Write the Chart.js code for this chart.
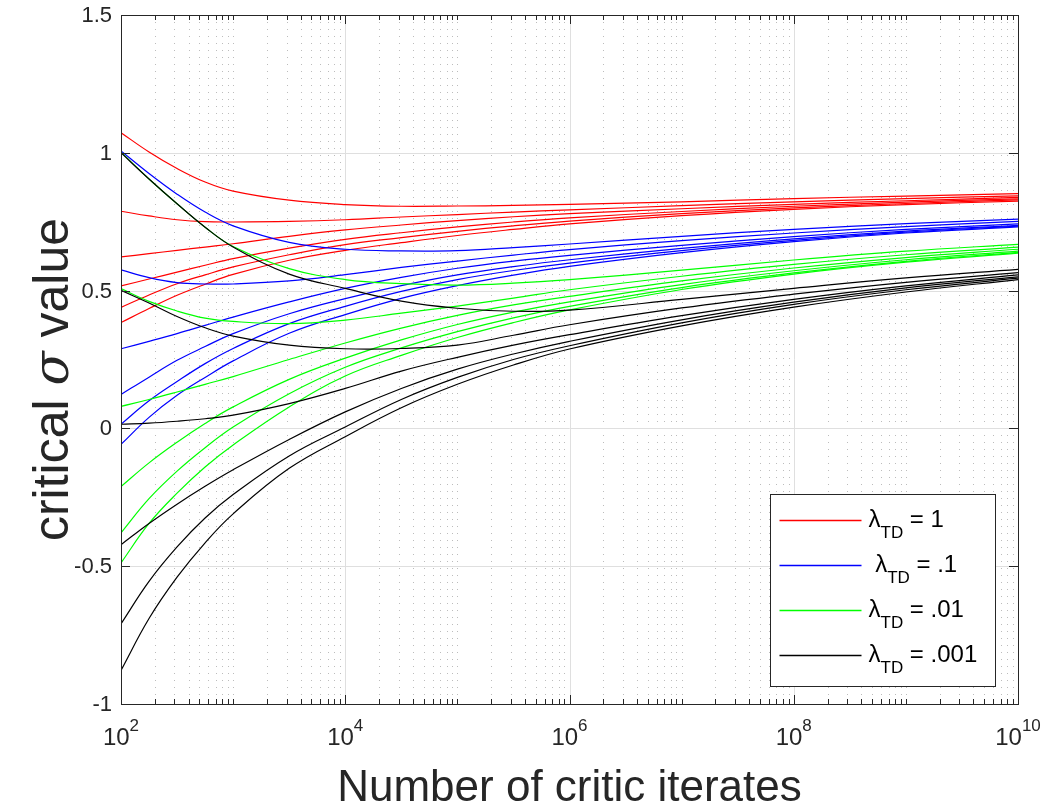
<!DOCTYPE html>
<html>
<head>
<meta charset="utf-8">
<script src="https://cdn.jsdelivr.net/npm/chart.js@4.4.1/dist/chart.umd.min.js"></script>
<style>
  html, body { margin: 0; padding: 0; background: #fff; }
  #wrap { width: 1048px; height: 810px; }
</style>
</head>
<body>
<div id="wrap"><canvas id="sigmaChart"></canvas></div>
<script>
// number of critic iterates (x), sampled at quarter / half / whole decades
const iterates = [1e2, 177.8, 316.2, 562.3, 1e3, 3162.3, 1e4, 31623, 1e5, 316228, 1e6, 1e7, 1e8, 1e9, 1e10];

// critical sigma, six runs per lambda_TD
const lambda1 = [
  [1.073, 1.003, 0.943, 0.894, 0.861, 0.828, 0.812, 0.806, 0.807, 0.809, 0.813, 0.822, 0.834, 0.843, 0.852],
  [0.788, 0.771, 0.757, 0.750, 0.749, 0.751, 0.757, 0.767, 0.776, 0.785, 0.793, 0.808, 0.822, 0.834, 0.844],
  [0.622, 0.634, 0.646, 0.658, 0.670, 0.697, 0.720, 0.738, 0.754, 0.768, 0.779, 0.797, 0.813, 0.826, 0.838],
  [0.517, 0.542, 0.567, 0.592, 0.616, 0.654, 0.686, 0.710, 0.731, 0.749, 0.764, 0.787, 0.806, 0.821, 0.833],
  [0.439, 0.484, 0.525, 0.557, 0.586, 0.630, 0.667, 0.692, 0.715, 0.735, 0.752, 0.779, 0.800, 0.816, 0.829],
  [0.384, 0.435, 0.483, 0.523, 0.559, 0.610, 0.646, 0.674, 0.700, 0.722, 0.742, 0.772, 0.795, 0.812, 0.825]
];
const lambda01 = [
  [1.007, 0.925, 0.850, 0.785, 0.735, 0.675, 0.650, 0.644, 0.645, 0.656, 0.669, 0.697, 0.722, 0.743, 0.759],
  [0.575, 0.547, 0.529, 0.524, 0.524, 0.535, 0.558, 0.584, 0.607, 0.629, 0.649, 0.681, 0.709, 0.732, 0.751],
  [0.289, 0.316, 0.344, 0.374, 0.404, 0.459, 0.508, 0.548, 0.581, 0.607, 0.628, 0.664, 0.696, 0.722, 0.742],
  [0.123, 0.186, 0.247, 0.297, 0.344, 0.416, 0.471, 0.518, 0.557, 0.587, 0.612, 0.653, 0.688, 0.716, 0.737],
  [0.015, 0.100, 0.170, 0.235, 0.290, 0.380, 0.443, 0.497, 0.540, 0.573, 0.600, 0.645, 0.682, 0.712, 0.734],
  [-0.058, 0.040, 0.120, 0.185, 0.245, 0.345, 0.413, 0.472, 0.518, 0.556, 0.588, 0.638, 0.678, 0.709, 0.731]
];
const lambda001 = [
  [1.002, 0.905, 0.815, 0.730, 0.660, 0.580, 0.540, 0.525, 0.520, 0.527, 0.540, 0.574, 0.611, 0.643, 0.668],
  [0.507, 0.461, 0.426, 0.400, 0.388, 0.380, 0.393, 0.418, 0.444, 0.473, 0.503, 0.552, 0.595, 0.630, 0.658],
  [0.080, 0.105, 0.132, 0.160, 0.188, 0.250, 0.310, 0.364, 0.410, 0.448, 0.479, 0.535, 0.582, 0.620, 0.650],
  [-0.211, -0.125, -0.050, 0.018, 0.078, 0.178, 0.255, 0.321, 0.377, 0.422, 0.459, 0.522, 0.572, 0.612, 0.643],
  [-0.379, -0.255, -0.155, -0.070, 0.005, 0.126, 0.222, 0.292, 0.351, 0.401, 0.443, 0.511, 0.564, 0.606, 0.639],
  [-0.488, -0.345, -0.235, -0.140, -0.060, 0.078, 0.190, 0.265, 0.330, 0.384, 0.430, 0.504, 0.560, 0.603, 0.636]
];
const lambda0001 = [
  [1.000, 0.905, 0.815, 0.730, 0.658, 0.560, 0.508, 0.462, 0.436, 0.425, 0.429, 0.468, 0.508, 0.546, 0.577],
  [0.501, 0.455, 0.406, 0.365, 0.335, 0.302, 0.289, 0.290, 0.302, 0.338, 0.376, 0.437, 0.487, 0.530, 0.565],
  [0.015, 0.019, 0.026, 0.035, 0.048, 0.090, 0.145, 0.208, 0.258, 0.302, 0.340, 0.409, 0.468, 0.517, 0.557],
  [-0.422, -0.345, -0.275, -0.210, -0.150, -0.040, 0.060, 0.145, 0.215, 0.270, 0.316, 0.394, 0.458, 0.510, 0.550],
  [-0.709, -0.555, -0.430, -0.325, -0.240, -0.100, 0.005, 0.105, 0.185, 0.250, 0.300, 0.383, 0.450, 0.503, 0.545],
  [-0.878, -0.690, -0.540, -0.415, -0.310, -0.145, -0.030, 0.075, 0.160, 0.230, 0.288, 0.372, 0.440, 0.495, 0.540]
];

const groupColors = ['#ff0000', '#0000ff', '#00ff00', '#000000'];
const legendLabels = ['\\lambda_{TD} = 1', ' \\lambda_{TD} = .1', '\\lambda_{TD} = .01', '\\lambda_{TD} = .001'];
const yTicks = [-1, -0.5, 0, 0.5, 1, 1.5];
const xTickExponents = [2, 4, 6, 8, 10];
const xTitle = 'Number of critic iterates';
const yTitle = ['critical ', '\u03c3', ' value'];

const FONT = '"Liberation Sans", Arial, Helvetica, sans-serif';
const AXIS_COLOR = '#262626';

const groups = [lambda1, lambda01, lambda001, lambda0001];
const datasets = [];
groups.forEach((curves, g) => {
    curves.forEach(values => {
        datasets.push({
            data: values.map((v, i) => ({x: iterates[i], y: v})),
            borderColor: groupColors[g],
            borderWidth: 1.2,
            pointRadius: 0,
            fill: false,
            tension: 0.4,
            order: groups.length - g
        });
    });
});

function hline(ctx, x1, x2, y) {
    ctx.beginPath(); ctx.moveTo(x1, y); ctx.lineTo(x2, y); ctx.stroke();
}
function vline(ctx, x, y1, y2) {
    ctx.beginPath(); ctx.moveTo(x, y1); ctx.lineTo(x, y2); ctx.stroke();
}

// minor x positions: every k*10^e that is not a labelled decade
function minorXValues() {
    const out = [];
    for (let e = 2; e < 10; e++) {
        for (let k = 1; k < 10; k++) {
            if (k === 1 && xTickExponents.includes(e)) continue;
            out.push(k * Math.pow(10, e));
        }
    }
    return out;
}

// draws "\lambda_{TD} = 1" style text with subscripts
function drawTexLabel(ctx, str, x, baseline, size, subSize, subDrop) {
    const parts = [];
    const re = /_\{([^}]*)\}/g;
    let last = 0, m;
    while ((m = re.exec(str)) !== null) {
        parts.push({t: str.slice(last, m.index), sub: false});
        parts.push({t: m[1], sub: true});
        last = m.index + m[0].length;
    }
    parts.push({t: str.slice(last), sub: false});
    let cx = x;
    parts.forEach(p => {
        const t = p.t.replace(/\\lambda/g, '\u03bb');
        ctx.font = (p.sub ? subSize : size) + 'px ' + FONT;
        ctx.fillText(t, cx, baseline + (p.sub ? subDrop : 0));
        cx += ctx.measureText(t).width;
    });
}

const matlabAxes = {
    id: 'matlabAxes',
    beforeDatasetsDraw(chart) {
        const {ctx, chartArea: a, scales: {x, y}} = chart;
        ctx.save();
        ctx.lineWidth = 1;
        // minor dotted grid
        ctx.strokeStyle = '#bcbcbc';
        ctx.setLineDash([1, 6]);
        minorXValues().forEach(v => {
            const px = Math.round(x.getPixelForValue(v)) + 0.5;
            vline(ctx, px, a.top, a.bottom);
        });
        // major grid
        ctx.setLineDash([]);
        ctx.strokeStyle = '#dfdfdf';
        xTickExponents.forEach(e => {
            const px = Math.round(x.getPixelForValue(Math.pow(10, e))) + 0.5;
            vline(ctx, px, a.top, a.bottom);
        });
        yTicks.forEach(v => {
            const py = Math.round(y.getPixelForValue(v)) + 0.5;
            hline(ctx, a.left, a.right, py);
        });
        ctx.restore();
    },
    afterDatasetsDraw(chart) {
        const {ctx, chartArea: a, scales: {x, y}} = chart;
        ctx.save();
        ctx.strokeStyle = AXIS_COLOR;
        ctx.lineWidth = 1;
        // ticks (inward, both sides)
        minorXValues().forEach(v => {
            const px = Math.round(x.getPixelForValue(v)) + 0.5;
            vline(ctx, px, a.bottom, a.bottom - 5);
            vline(ctx, px, a.top, a.top + 5);
        });
        xTickExponents.forEach(e => {
            const px = Math.round(x.getPixelForValue(Math.pow(10, e))) + 0.5;
            vline(ctx, px, a.bottom, a.bottom - 9);
            vline(ctx, px, a.top, a.top + 9);
        });
        yTicks.forEach(v => {
            const py = Math.round(y.getPixelForValue(v)) + 0.5;
            hline(ctx, a.left, a.left + 9, py);
            hline(ctx, a.right, a.right - 9, py);
        });
        // box
        ctx.strokeRect(Math.round(a.left) + 0.5, Math.round(a.top) + 0.5,
            Math.round(a.right - a.left), Math.round(a.bottom - a.top));

        ctx.fillStyle = AXIS_COLOR;
        // y tick labels
        ctx.font = '22px ' + FONT;
        ctx.textAlign = 'right';
        ctx.textBaseline = 'middle';
        yTicks.forEach(v => {
            ctx.fillText(String(v), a.left - 9, y.getPixelForValue(v) + 1);
        });

        // x tick labels 10^n
        ctx.textBaseline = 'alphabetic';
        ctx.textAlign = 'left';
        xTickExponents.forEach(e => {
            const px = x.getPixelForValue(Math.pow(10, e));
            ctx.font = '24px ' + FONT;
            const w1 = ctx.measureText('10').width;
            ctx.font = '17px ' + FONT;
            const w2 = ctx.measureText(String(e)).width;
            const sx = px - (w1 + w2) / 2;
            ctx.font = '24px ' + FONT;
            ctx.fillText('10', sx, a.bottom + 41);
            ctx.font = '17px ' + FONT;
            ctx.fillText(String(e), sx + w1, a.bottom + 27);
        });

        // x title
        ctx.font = '44px ' + FONT;
        ctx.textAlign = 'center';
        ctx.fillText(xTitle, (a.left + a.right) / 2, a.bottom + 97);

        // y title with italic sigma
        ctx.save();
        ctx.translate(68, (a.top + a.bottom) / 2 + 20);
        ctx.rotate(-Math.PI / 2);
        ctx.textAlign = 'left';
        const fonts = ['50px ' + FONT, 'italic 50px "DejaVu Serif", serif', '50px ' + FONT];
        let total = 0;
        const widths = yTitle.map((t, i) => { ctx.font = fonts[i]; const w = ctx.measureText(t).width; total += w; return w; });
        let cx = -total / 2;
        yTitle.forEach((t, i) => { ctx.font = fonts[i]; ctx.fillText(t, cx, 0); cx += widths[i]; });
        ctx.restore();
        ctx.restore();
    },
    afterDraw(chart) {
        const {ctx, chartArea: a} = chart;
        const boxW = 225, boxH = 192;
        const left = Math.round(a.right - 23 - boxW) + 0.5;
        const top = Math.round(a.bottom - 18 - boxH) + 0.5;
        ctx.save();
        ctx.fillStyle = '#ffffff';
        ctx.fillRect(left, top, boxW, boxH);
        ctx.strokeStyle = AXIS_COLOR;
        ctx.lineWidth = 1;
        ctx.strokeRect(left, top, boxW, boxH);
        legendLabels.forEach((label, i) => {
            const cy = top + 26 + i * 45;
            ctx.strokeStyle = groupColors[i];
            ctx.lineWidth = 1.3;
            hline(ctx, left + 9, left + 91, cy);
            ctx.fillStyle = '#000000';
            ctx.textAlign = 'left';
            ctx.textBaseline = 'alphabetic';
            drawTexLabel(ctx, label, left + 98, cy + 6, 24, 17, 11);
        });
        ctx.restore();
    }
};

const ctx = document.getElementById('sigmaChart').getContext('2d');
new Chart(ctx, {
    type: 'line',
    data: { datasets: datasets },
    options: {
        responsive: true,
        maintainAspectRatio: false,
        animation: false,
        layout: { padding: { top: 15, right: 30, left: 0, bottom: 0 } },
        plugins: {
            legend: { display: false },
            tooltip: { enabled: false }
        },
        scales: {
            x: {
                type: 'logarithmic',
                min: 1e2,
                max: 1e10,
                grid: { display: false },
                border: { display: false },
                ticks: { display: false },
                afterFit: scale => { scale.height = 106; }
            },
            y: {
                min: -1,
                max: 1.5,
                grid: { display: false },
                border: { display: false },
                ticks: { display: false },
                afterFit: scale => { scale.width = 121; }
            }
        }
    },
    plugins: [matlabAxes]
});
</script>
</body>
</html>
